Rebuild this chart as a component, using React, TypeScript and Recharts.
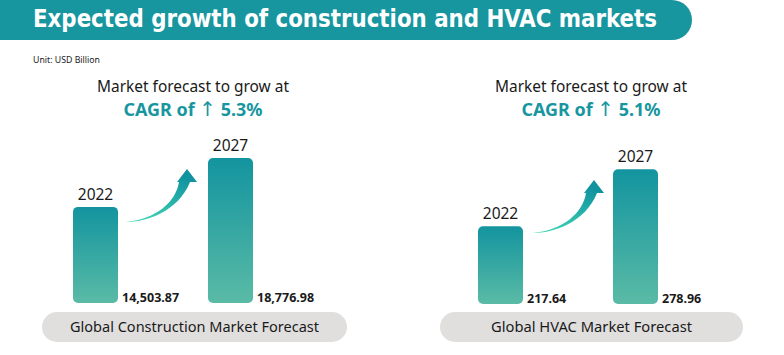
import { Bar, BarChart, LabelList, XAxis, YAxis } from "recharts";

const years = ["2022", "2027"];
const constructionValues = [14503.87, 18776.98];
const hvacValues = [217.64, 278.96];
const cagrLabels = ["5.3%", "5.1%"];
const panelTitles = [
  "Global Construction Market Forecast",
  "Global HVAC Market Forecast",
];

const TEAL = "#17969f";
const FONT = "'Noto Sans', 'Open Sans', sans-serif";

const constructionData = years.map((year, i) => ({
  year,
  value: constructionValues[i],
}));
const hvacData = years.map((year, i) => ({ year, value: hvacValues[i] }));

const formatValue = (v: number) =>
  v.toLocaleString("en-US", {
    minimumFractionDigits: 2,
    maximumFractionDigits: 2,
  });

const ValueLabel = (props: any) => {
  const { x, y, width, height, value } = props;
  return (
    <text
      x={Number(x) + Number(width) + 4}
      y={Number(y) + Number(height) - 1}
      fontFamily={FONT}
      fontWeight={700}
      fontSize={12.5}
      fill="#1a1a1a"
    >
      {formatValue(Number(value))}
    </text>
  );
};

type MarketBarsProps = {
  data: { year: string; value: number }[];
  domain: [number, number];
  gradId: string;
  left: number;
  top: number;
  height: number;
};

// plot area ends at top + height; extra bottom margin keeps label descenders visible
const MarketBars = ({ data, domain, gradId, left, top, height }: MarketBarsProps) => (
  <div style={{ position: "absolute", left, top }}>
    <BarChart
      width={340}
      height={height + 8}
      data={data}
      margin={{ top: 0, right: 70, bottom: 8, left: 0 }}
    >
      <defs>
        <linearGradient id={gradId} x1="0" y1="0" x2="0" y2="1">
          <stop offset="0%" stopColor="#13949f" />
          <stop offset="100%" stopColor="#5abba6" />
        </linearGradient>
      </defs>
      <XAxis dataKey="year" hide />
      <YAxis hide domain={domain} allowDataOverflow />
      <Bar
        dataKey="value"
        barSize={45}
        fill={`url(#${gradId})`}
        radius={[5, 5, 5, 5]}
        isAnimationActive={false}
      >
        <LabelList
          dataKey="year"
          position="top"
          offset={7}
          fill="#1a1a1a"
          fontSize={15.5}
          fontFamily={FONT}
        />
        <LabelList dataKey="value" content={ValueLabel} />
      </Bar>
    </BarChart>
  </div>
);

const Arrow = ({ x, y, id }: { x: number; y: number; id: string }) => (
  <g transform={`translate(${x},${y})`}>
    <defs>
      <linearGradient id={id} x1="0" y1="1" x2="0.6" y2="0">
        <stop offset="0%" stopColor="#46dcb8" />
        <stop offset="100%" stopColor="#10929f" />
      </linearGradient>
    </defs>
    <path
      d="M0,0 C20,0 52,-10 64,-40 L71,-40 L61,-53 L51,-40 L53,-40 C50,-20 30,-3 0,0 Z"
      fill={`url(#${id})`}
    />
  </g>
);

const Heading = ({ cx, cagr }: { cx: number; cagr: string }) => (
  <g fontFamily={FONT} textAnchor="middle">
    <text
      x={cx}
      y={92}
      fontSize={16.5}
      fill="#1a1a1a"
      textLength={192}
      lengthAdjust="spacingAndGlyphs"
    >
      Market forecast to grow at
    </text>
    <text
      x={cx}
      y={116}
      fontSize={18}
      fontWeight={700}
      fill={TEAL}
      textLength={139}
      lengthAdjust="spacingAndGlyphs"
    >
      CAGR of{" "}
      <tspan fontFamily="'DejaVu Sans', sans-serif" fontWeight={400} fontSize={20}>
        ↑
      </tspan>{" "}
      {cagr}
    </text>
  </g>
);

const Pill = ({ x, w, label, tw }: { x: number; w: number; label: string; tw: number }) => (
  <g>
    <rect x={x} y={312} width={w} height={30} rx={15} fill="#e0dfde" />
    <text
      x={x + w / 2}
      y={332}
      textAnchor="middle"
      fontFamily={FONT}
      fontSize={14.5}
      fill="#1a1a1a"
      textLength={tw}
      lengthAdjust="spacingAndGlyphs"
    >
      {label}
    </text>
  </g>
);

export default function App() {
  return (
    <div
      style={{
        position: "absolute",
        left: 0,
        top: 0,
        width: 784,
        height: 355,
        background: "#fff",
        overflow: "hidden",
      }}
    >
      <svg
        width={784}
        height={355}
        style={{ position: "absolute", left: 0, top: 0 }}
      >
        <path d="M0,0 H672 A20,20 0 0 1 672,40 H0 Z" fill={TEAL} />
        <text
          x={33}
          y={27}
          fill="#fff"
          fontFamily="'DejaVu Sans Condensed', 'Liberation Sans Narrow', sans-serif"
          fontWeight={700}
          fontSize={25}
          textLength={624}
          lengthAdjust="spacingAndGlyphs"
        >
          Expected growth of construction and HVAC markets
        </text>
        <text
          x={33}
          y={63}
          fill="#1a1a1a"
          fontFamily={FONT}
          fontSize={9.5}
          textLength={67}
          lengthAdjust="spacingAndGlyphs"
        >
          Unit: USD Billion
        </text>
        <Heading cx={193} cagr={cagrLabels[0]} />
        <Heading cx={591} cagr={cagrLabels[1]} />
        <Arrow x={126} y={222} id="arrowA" />
        <Arrow x={533} y={233} id="arrowB" />
        <Pill x={42} w={305} label={panelTitles[0]} tw={249} />
        <Pill x={440} w={303} label={panelTitles[1]} tw={201} />
      </svg>
      <MarketBars
        data={constructionData}
        domain={[6100, 22100]}
        gradId="barA"
        left={28}
        top={120}
        height={183}
      />
      <MarketBars
        data={hvacData}
        domain={[134, 332]}
        gradId="barB"
        left={433}
        top={120}
        height={184}
      />
    </div>
  );
}
